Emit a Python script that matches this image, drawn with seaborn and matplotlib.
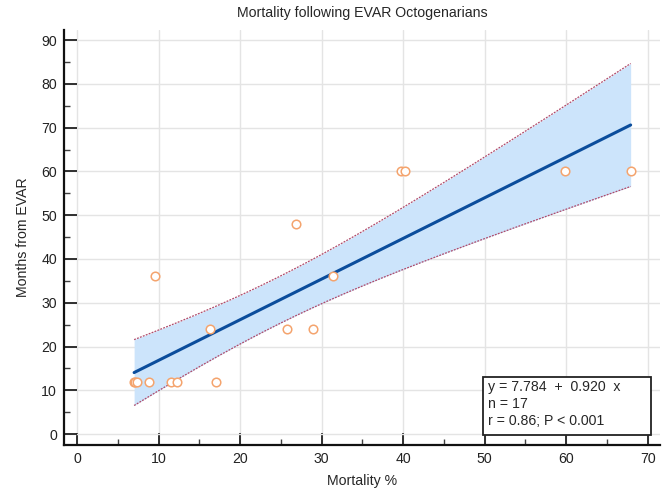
import numpy as np
import matplotlib
matplotlib.use("Agg")
import matplotlib.pyplot as plt
from matplotlib.patches import Rectangle
from matplotlib.ticker import MultipleLocator
import seaborn as sns

# mortality % (x) and months from EVAR (y)
mortality = [7.0, 7.1, 7.4, 8.8, 11.5, 12.3, 17.0, 16.3, 25.7, 28.9,
             9.6, 31.4, 26.8, 39.7, 40.2, 59.9, 67.9]
months = [12, 12, 12, 12, 12, 12, 12, 24, 24, 24,
          36, 36, 48, 60, 60, 60, 60]

title = "Mortality following EVAR Octogenarians"
x_label = "Mortality %"
y_label = "Months from EVAR"
stats_text = "y = 7.784  +  0.920  x\nn = 17\nr = 0.86; P < 0.001"

sns.set_style("white")
plt.rcParams['font.family'] = ['Liberation Sans', 'DejaVu Sans']
FS = 10.2

fig = plt.figure(figsize=(6.68, 4.88), dpi=100)
ax = fig.add_axes([64 / 668, 1 - 445 / 488, 596 / 668, 415 / 488])

x = np.array(mortality, dtype=float)
y = np.array(months, dtype=float)
n = len(x)
slope, intercept = np.polyfit(x, y, 1)
xs = np.linspace(x.min(), x.max(), 200)
fit = intercept + slope * xs
resid = y - (intercept + slope * x)
s = np.sqrt(np.sum(resid ** 2) / (n - 2))
sxx = np.sum((x - x.mean()) ** 2)
t = 2.131  # t(0.975, 15)
half = t * s * np.sqrt(1 / n + (xs - x.mean()) ** 2 / sxx)

ax.fill_between(xs, fit - half, fit + half, color="#cce4fb", lw=0, zorder=1)
ax.plot(xs, fit - half, color="#b04a6a", lw=0.9, ls=(0, (1.5, 1)), zorder=2)
ax.plot(xs, fit + half, color="#b04a6a", lw=0.9, ls=(0, (1.5, 1)), zorder=2)
sns.regplot(x=x, y=y, ax=ax, scatter=False, ci=None, truncate=True,
            line_kws=dict(color="#0b4d9c", lw=2.2, zorder=3))
sns.scatterplot(x=x, y=y, ax=ax, marker="o", s=38, facecolor="white",
                edgecolor="#f4a46e", linewidth=1.1, zorder=4)

ax.set_xlim(-1.6, 71.5)
ax.set_ylim(-2.5, 92.3)
ax.xaxis.set_major_locator(MultipleLocator(10))
ax.xaxis.set_minor_locator(MultipleLocator(5))
ax.yaxis.set_major_locator(MultipleLocator(10))
ax.yaxis.set_minor_locator(MultipleLocator(5))
ax.grid(True, which="major", color="#e4e4e4", lw=1, zorder=0)
ax.set_axisbelow(True)
ax.tick_params(which="major", direction="in", length=9, width=1.3,
               color="#202020", labelsize=FS, labelcolor="#222222", pad=5)
ax.tick_params(which="minor", direction="in", length=4, width=1, color="#404040")
ax.tick_params(axis="y", which="both", left=True)
ax.tick_params(axis="x", which="both", bottom=True)

for side in ["top", "right"]:
    ax.spines[side].set_visible(False)
for side in ["left", "bottom"]:
    ax.spines[side].set_linewidth(1.6)
    ax.spines[side].set_color("#111111")

ax.set_title(title, fontsize=FS, pad=9)
ax.set_xlabel(x_label, fontsize=FS, labelpad=6)
ax.set_ylabel(y_label, fontsize=FS, labelpad=8)

# statistics box
ax.add_patch(Rectangle((0.703, 0.024), 0.282, 0.140, transform=ax.transAxes,
                       facecolor="white", edgecolor="#222222", lw=1.3, zorder=5))
ax.text(0.711, 0.157, stats_text, transform=ax.transAxes, ha="left", va="top",
        fontsize=FS, linespacing=1.28, zorder=6)

fig.savefig("out.png", dpi=100)
